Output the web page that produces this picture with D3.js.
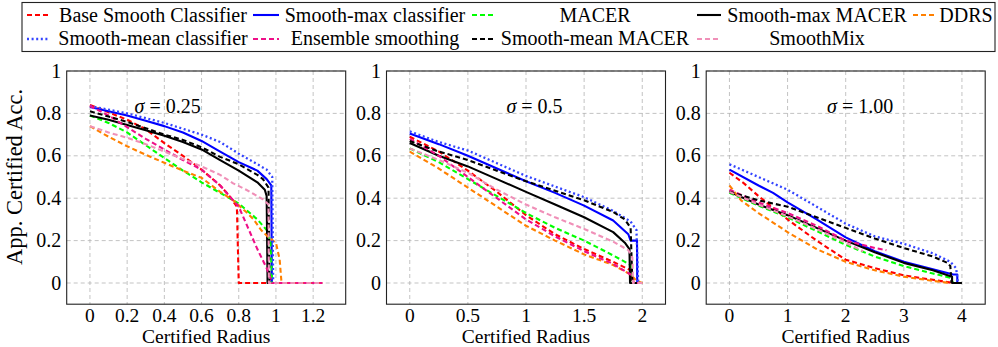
<!DOCTYPE html>
<html>
<head>
<meta charset="utf-8">
<script src="https://cdn.jsdelivr.net/npm/d3@7/dist/d3.min.js"></script>
<style>
body { margin: 0; background: #fff; }
svg text { font-family: "Liberation Serif", "Times New Roman", serif; fill: #000; }
</style>
</head>
<body>
<div id="chart"></div>
<script>
////////////////////////////////////////////////////////////
//////////////////////// Data //////////////////////////////
////////////////////////////////////////////////////////////

// legend order = drawing order
var names = ["Base Smooth Classifier", "Smooth-max classifier", "MACER", "Smooth-max MACER", "DDRS",
             "Smooth-mean classifier", "Ensemble smoothing", "Smooth-mean MACER", "SmoothMix"];
var colors = ["#ff0000", "#0000ff", "#00ff00", "#000000", "#ff8000",
              "#3344ff", "#ee0f88", "#000000", "#f090b8"];
var dashes = ["5,3", null, "5,3", null, "5,3", "2,2.6", "5,3", "5,3", "5,3"];

var sigmas = ["0.25", "0.5", "1.00"];
var xTicks025 = [0, 0.2, 0.4, 0.6, 0.8, 1, 1.2];
var xTicks050 = [0, 0.5, 1, 1.5, 2];
var xTicks100 = [0, 1, 2, 3, 4];
var yTicks = [0, 0.2, 0.4, 0.6, 0.8, 1];

// sigma = 0.25  [radius, certified acc]
var s025_base   = [[0,.84],[.1,.805],[.2,.77],[.3,.725],[.4,.66],[.5,.6],[.6,.535],[.7,.46],[.75,.41],[.79,.36],[.8,0],[1.25,0]];
var s025_max    = [[0,.83],[.1,.81],[.2,.79],[.3,.765],[.4,.74],[.5,.71],[.6,.67],[.7,.62],[.8,.57],[.9,.53],[.95,.49],[.975,.46],[.978,0]];
var s025_macer  = [[0,.79],[.1,.755],[.2,.71],[.3,.65],[.4,.59],[.5,.53],[.6,.475],[.7,.425],[.8,.375],[.86,.33],[.9,.3],[.95,.25],[.97,.2],[.98,0]];
var s025_maxM   = [[0,.79],[.1,.77],[.2,.745],[.3,.72],[.4,.695],[.5,.665],[.6,.63],[.7,.58],[.8,.53],[.9,.475],[.94,.44],[.95,.41],[.955,0],[.97,0]];
var s025_ddrs   = [[0,.74],[.1,.69],[.2,.645],[.3,.605],[.4,.567],[.5,.53],[.6,.496],[.7,.43],[.77,.39],[.84,.335],[.88,.3],[.92,.25],[.96,.215],[1,.19],[1.02,.11],[1.03,0],[1.25,0]];
var s025_mean   = [[0,.835],[.2,.8],[.4,.755],[.6,.7],[.7,.665],[.8,.61],[.9,.56],[.95,.535],[.98,.5],[.985,0]];
var s025_ens    = [[0,.835],[.1,.79],[.2,.735],[.3,.68],[.4,.63],[.5,.58],[.6,.535],[.7,.46],[.8,.36],[.85,.26],[.9,.16],[.95,.07],[.98,0],[1.25,0]];
var s025_meanM  = [[0,.81],[.1,.785],[.2,.76],[.3,.73],[.4,.7],[.5,.675],[.6,.64],[.7,.595],[.8,.56],[.9,.51],[.93,.49],[.96,.45],[.965,0]];
var s025_mix    = [[0,.74],[.1,.71],[.2,.685],[.3,.655],[.4,.62],[.5,.585],[.6,.55],[.7,.51],[.77,.47],[.84,.44],[.93,.395],[.96,.37],[.962,0],[1.25,0]];

// sigma = 0.5
var s050_base   = [[0,.69],[.25,.62],[.5,.53],[.75,.43],[1,.32],[1.25,.23],[1.5,.16],[1.75,.1],[1.9,.06],[1.92,0],[2,0]];
var s050_max    = [[0,.705],[.25,.655],[.5,.6],[.75,.54],[1,.48],[1.25,.425],[1.5,.365],[1.75,.295],[1.88,.23],[1.9,.2],[1.955,.2],[1.957,0]];
var s050_macer  = [[0,.635],[.25,.57],[.5,.49],[.75,.41],[1,.33],[1.25,.26],[1.5,.2],[1.75,.13],[1.9,.085],[1.92,0]];
var s050_maxM   = [[0,.66],[.25,.6],[.5,.55],[.75,.49],[1,.43],[1.25,.37],[1.5,.31],[1.75,.24],[1.85,.19],[1.89,.16],[1.895,0],[1.96,0]];
var s050_ddrs   = [[0,.62],[.25,.54],[.5,.45],[.75,.36],[1,.27],[1.25,.2],[1.5,.135],[1.75,.085],[1.9,.04],[1.95,.01],[2,0]];
var s050_mean   = [[0,.715],[.25,.665],[.5,.625],[.75,.565],[1,.505],[1.25,.455],[1.5,.405],[1.75,.34],[1.9,.29],[1.95,.25],[1.965,0]];
var s050_ens    = [[0,.68],[.25,.6],[.5,.5],[.75,.4],[1,.3],[1.25,.22],[1.5,.15],[1.75,.09],[1.9,.04],[1.93,0],[2,0]];
var s050_meanM  = [[0,.67],[.25,.62],[.5,.58],[.75,.53],[1,.48],[1.25,.435],[1.5,.39],[1.75,.335],[1.85,.3],[1.9,.26],[1.915,0]];
var s050_mix    = [[0,.635],[.25,.58],[.5,.52],[.75,.44],[1,.37],[1.25,.31],[1.5,.255],[1.75,.195],[1.88,.155],[1.915,.12],[1.92,0],[2,0]];

// sigma = 1.00
var s100_base   = [[0,.52],[.25,.47],[.5,.41],[1,.3],[1.5,.2],[2,.11],[2.5,.07],[3,.036],[3.5,.015],[3.85,0]];
var s100_max    = [[0,.535],[.5,.46],[.75,.425],[1,.38],[1.5,.3],[2,.215],[2.5,.15],[3,.1],[3.5,.065],[3.85,.04],[3.92,.04],[3.92,0]];
var s100_macer  = [[0,.425],[.5,.365],[1,.31],[1.5,.245],[2,.18],[2.5,.125],[3,.08],[3.5,.045],[3.8,.025],[3.85,0]];
var s100_maxM   = [[0,.43],[.5,.37],[1,.32],[1.5,.26],[2,.2],[2.5,.145],[3,.095],[3.5,.06],[3.83,.03],[3.83,0],[4,0]];
var s100_ddrs   = [[0,.46],[.2,.39],[.5,.33],[1,.24],[1.5,.16],[2,.1],[2.5,.06],[3,.03],[3.5,.01],[3.8,0]];
var s100_mean   = [[0,.56],[.5,.5],[1,.44],[1.5,.36],[2,.28],[2.5,.22],[3,.185],[3.5,.14],[3.8,.1],[3.9,.07],[3.93,0]];
var s100_ens    = [[0,.44],[.5,.38],[1,.33],[1.5,.27],[2,.2],[2.5,.165],[2.7,.155]];
var s100_meanM  = [[0,.43],[.5,.39],[1,.36],[1.5,.31],[2,.26],[2.5,.21],[3,.165],[3.5,.125],[3.75,.095],[3.8,.08],[3.82,0]];
var s100_mix    = [[0,.43],[.5,.37],[1,.315],[1.5,.255],[2,.19],[2.3,.15]];

var panelData = [
  [s025_base, s025_max, s025_macer, s025_maxM, s025_ddrs, s025_mean, s025_ens, s025_meanM, s025_mix],
  [s050_base, s050_max, s050_macer, s050_maxM, s050_ddrs, s050_mean, s050_ens, s050_meanM, s050_mix],
  [s100_base, s100_max, s100_macer, s100_maxM, s100_ddrs, s100_mean, s100_ens, s100_meanM, s100_mix]
];
var panelTicks = [xTicks025, xTicks050, xTicks100];
var panelDomains = [[-0.125, 1.375], [-0.2, 2.2], [-0.4, 4.4]];

////////////////////////////////////////////////////////////
//////////////////////// Layout ////////////////////////////
////////////////////////////////////////////////////////////

var width = 998, height = 347;
var panelLeft = [66.7, 386.5, 706.2];
var panelW = 279;
var plotTop = 71, plotBottom = 304.2;
var sigmaPos = [101, 148, 154];   // label centre, px from panel left

var svg = d3.select("#chart").append("svg")
    .attr("width", width)
    .attr("height", height);

var fmt = function (d) { return String(+d.toFixed(2)); };
var y = d3.scaleLinear().domain([-0.1, 1]).range([plotBottom, plotTop]);

panelData.forEach(function (series, p) {
  var x = d3.scaleLinear().domain(panelDomains[p]).range([panelLeft[p], panelLeft[p] + panelW]);
  var g = svg.append("g");

  //grid
  g.selectAll(".vgrid").data(panelTicks[p]).enter().append("line")
      .attr("x1", function (d) { return x(d); }).attr("x2", function (d) { return x(d); })
      .attr("y1", plotTop).attr("y2", plotBottom)
      .attr("stroke", "#b4b4b4").attr("stroke-width", 0.8).attr("stroke-dasharray", "4,3");
  g.selectAll(".hgrid").data(yTicks).enter().append("line")
      .attr("x1", panelLeft[p]).attr("x2", panelLeft[p] + panelW)
      .attr("y1", function (d) { return y(d); }).attr("y2", function (d) { return y(d); })
      .attr("stroke", "#b4b4b4").attr("stroke-width", 0.8).attr("stroke-dasharray", "4,3");

  //clip
  svg.append("clipPath").attr("id", "clip" + p)
    .append("rect").attr("x", panelLeft[p]).attr("y", plotTop).attr("width", panelW).attr("height", plotBottom - plotTop);

  var line = d3.line()
      .x(function (d) { return x(d[0]); })
      .y(function (d) { return y(d[1]); });

  g.append("g").attr("clip-path", "url(#clip" + p + ")")
    .selectAll("path").data(series).enter().append("path")
      .attr("d", line)
      .attr("fill", "none")
      .attr("stroke", function (d, i) { return colors[i]; })
      .attr("stroke-width", function (d, i) { return dashes[i] === "2,2.6" ? 2.3 : 2.1; })
      .attr("stroke-dasharray", function (d, i) { return dashes[i]; })
      .attr("stroke-linejoin", "round");

  //frame
  g.append("rect")
      .attr("x", panelLeft[p]).attr("y", plotTop).attr("width", panelW).attr("height", plotBottom - plotTop)
      .attr("fill", "none").attr("stroke", "#222").attr("stroke-width", 1.1);

  //tick labels
  g.selectAll(".xt").data(panelTicks[p]).enter().append("text")
      .attr("x", function (d) { return x(d); }).attr("y", 321.8)
      .attr("text-anchor", "middle").style("font-size", "19.5px")
      .text(fmt);
  g.selectAll(".yt").data(yTicks).enter().append("text")
      .attr("x", panelLeft[p] - 5.5).attr("y", function (d) { return y(d) + 6.5; })
      .attr("text-anchor", "end").style("font-size", "20px")
      .text(fmt);

  g.append("text")
      .attr("x", panelLeft[p] + panelW / 2).attr("y", 342.8)
      .attr("text-anchor", "middle").style("font-size", "19.5px")
      .text("Certified Radius");

  var sl = g.append("text")
      .attr("x", panelLeft[p] + sigmaPos[p]).attr("y", 113)
      .attr("text-anchor", "middle").style("font-size", "20px");
  sl.append("tspan").style("font-style", "italic").text("σ");
  sl.append("tspan").text(" = " + sigmas[p]);
});

svg.append("text")
    .attr("transform", "translate(22,177) rotate(-90)")
    .attr("text-anchor", "middle").style("font-size", "22.5px")
    .text("App. Certified Acc.");

////////////////////////////////////////////////////////////
//////////////////////// Legend ////////////////////////////
////////////////////////////////////////////////////////////

var legend = svg.append("g");
legend.append("rect")
    .attr("x", 22).attr("y", 2.5).attr("width", 973).attr("height", 49)
    .attr("fill", "#fff").attr("stroke", "#222").attr("stroke-width", 1.1);

var colLine = [[27, 50], [253, 279], [472, 494], [697, 721], [913, 936]];
var colText = [153, 375, 595, 817, 966];
var rowY = [15, 39], rowBase = [21.5, 45];

names.forEach(function (n, i) {
  var c = i % 5, r = Math.floor(i / 5);
  legend.append("line")
      .attr("x1", colLine[c][0]).attr("x2", colLine[c][1])
      .attr("y1", rowY[r]).attr("y2", rowY[r])
      .attr("stroke", colors[i])
      .attr("stroke-width", dashes[i] === "2,2.6" ? 2.3 : 2.1)
      .attr("stroke-dasharray", dashes[i]);
  legend.append("text")
      .attr("x", colText[c]).attr("y", rowBase[r])
      .attr("text-anchor", "middle").style("font-size", "20px")
      .text(n);
});
</script>
</body>
</html>
